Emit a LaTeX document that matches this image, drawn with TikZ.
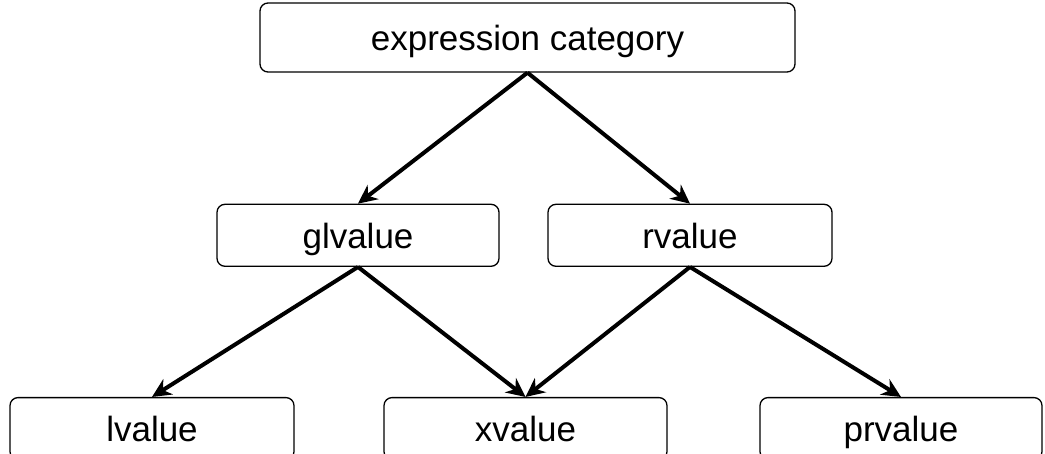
\documentclass[tikz,border=0pt]{standalone}
\usepackage{fontspec}
\setmainfont{Liberation Sans}
\usetikzlibrary{positioning, arrows.meta}

\begin{document}
\begin{tikzpicture}[
    x=1pt, y=1pt,
    box/.style={rectangle, draw, rounded corners=8pt, line width=1.3pt,
                minimum height=62pt, inner sep=0pt, text height=26pt, text depth=0pt,
                font=\fontsize{35}{40}\selectfont},
    arrow/.style={-{Stealth[length=19pt, width=18pt]}, line width=4pt, color=black}
]
\useasboundingbox (0,0) rectangle (1045,-453);

% Top level
\node[box, minimum width=535pt, minimum height=69pt] (Expr) at (527.5,-37.5) {expression category};

% Middle level
\node[box, minimum width=282pt, below=131pt of Expr.south, anchor=north, xshift=-169.5pt] (GL) {glvalue};
\node[box, minimum width=284pt, below=131pt of Expr.south, anchor=north, xshift=162.5pt] (R) {rvalue};

% Bottom level (cut off at the lower edge)
\node[box, minimum width=284pt, below=130pt of GL.south, anchor=north, xshift=-206pt] (L) {lvalue};
\node[box, minimum width=283pt, below=130pt of GL.south, anchor=north, xshift=167.5pt] (X) {xvalue};
\node[box, minimum width=282pt, below=130pt of R.south, anchor=north, xshift=211pt] (PR) {prvalue};

% Arrows
\draw[arrow] (Expr.south) -- (GL.north);
\draw[arrow] (Expr.south) -- (R.north);
\draw[arrow] (GL.south) -- (L.north);
\draw[arrow] (GL.south) -- (X.north);
\draw[arrow] (R.south) -- (X.north);
\draw[arrow] (R.south) -- (PR.north);

\end{tikzpicture}
\end{document}
